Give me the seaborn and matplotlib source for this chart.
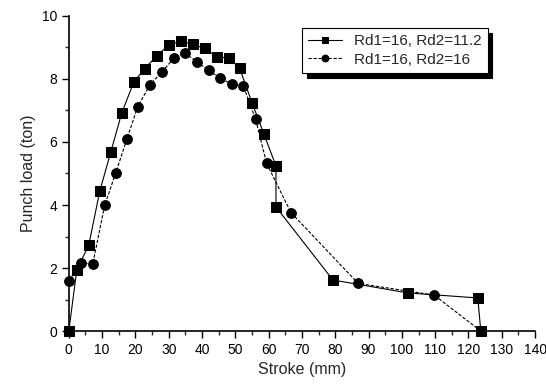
import pandas as pd
import numpy as np
import matplotlib
matplotlib.use('Agg')
import matplotlib.pyplot as plt
import seaborn as sns

# data
stroke_a = [0, 2.4, 6.0, 9.3, 12.6, 15.9, 19.5, 22.8, 26.4, 30.0, 33.6, 37.2, 40.8,
            44.4, 48.0, 51.3, 55.0, 58.6, 62.2, 62.2, 79.3, 101.8, 122.8, 123.7]
load_a = [0, 1.94, 2.73, 4.44, 5.68, 6.92, 7.9, 8.33, 8.73, 9.08, 9.2, 9.1, 8.97,
          8.7, 8.67, 8.34, 7.25, 6.25, 5.24, 3.94, 1.62, 1.21, 1.05, 0]

stroke_b = [0, 3.6, 7.2, 10.8, 14.1, 17.4, 20.7, 24.3, 27.9, 31.5, 34.8, 38.4, 42.0,
            45.3, 48.9, 52.4, 56.1, 59.4, 66.7, 86.9, 109.7, 123.7]
load_b = [1.59, 2.16, 2.13, 4.0, 5.02, 6.08, 7.12, 7.8, 8.22, 8.65, 8.83, 8.55, 8.27,
          8.03, 7.84, 7.78, 6.72, 5.32, 3.76, 1.51, 1.14, 0]

label_a = 'Rd1=16, Rd2=11.2'
label_b = 'Rd1=16, Rd2=16'

sns.set_style('ticks')
plt.rcParams['font.family'] = ['Liberation Sans', 'DejaVu Sans']

fig = plt.figure(figsize=(5.46, 3.89), dpi=100)
ax = fig.add_axes([0.126, 0.149, 0.854, 0.81])

sns.lineplot(x=stroke_a, y=load_a, ax=ax, sort=False, estimator=None, color='black',
             linewidth=0.8, marker='s', markersize=7, markeredgecolor='black',
             label=label_a, clip_on=False)
sns.lineplot(x=stroke_b, y=load_b, ax=ax, sort=False, estimator=None, color='black',
             linewidth=0.8, linestyle=(0, (3, 1.5)), marker='o', markersize=7,
             markeredgecolor='black', label=label_b, clip_on=False)

ax.set_xlim(0, 140)
ax.set_ylim(0, 10)
ax.set_xticks(np.arange(0, 141, 10))
ax.set_xticks(np.arange(0, 141, 5), minor=True)
ax.set_yticks(np.arange(0, 11, 2))
ax.set_yticks(np.arange(0, 11, 1), minor=True)
ax.tick_params(which='major', length=5, width=1, labelsize=10, colors='black')
ax.tick_params(which='minor', length=3, width=1)
for s in ['top', 'right']:
    ax.spines[s].set_visible(False)
for s in ['left', 'bottom']:
    ax.spines[s].set_linewidth(1.2)
    ax.spines[s].set_color('black')

ax.set_xlabel('Stroke (mm)', fontsize=11.5)
ax.set_ylabel('Punch load (ton)', fontsize=11.5)

leg = ax.legend(loc='upper left', bbox_to_anchor=(0.5, 0.962), borderaxespad=0,
                fontsize=11, frameon=True, fancybox=False, edgecolor='black',
                framealpha=1, markerscale=0.7,
                shadow={'color': 'black', 'alpha': 1, 'ox': 3.5, 'oy': -3.5},
                handlelength=2.2, borderpad=0.4, labelspacing=0.3)
leg.get_frame().set_linewidth(0.8)

fig.savefig('out.png', dpi=100)
